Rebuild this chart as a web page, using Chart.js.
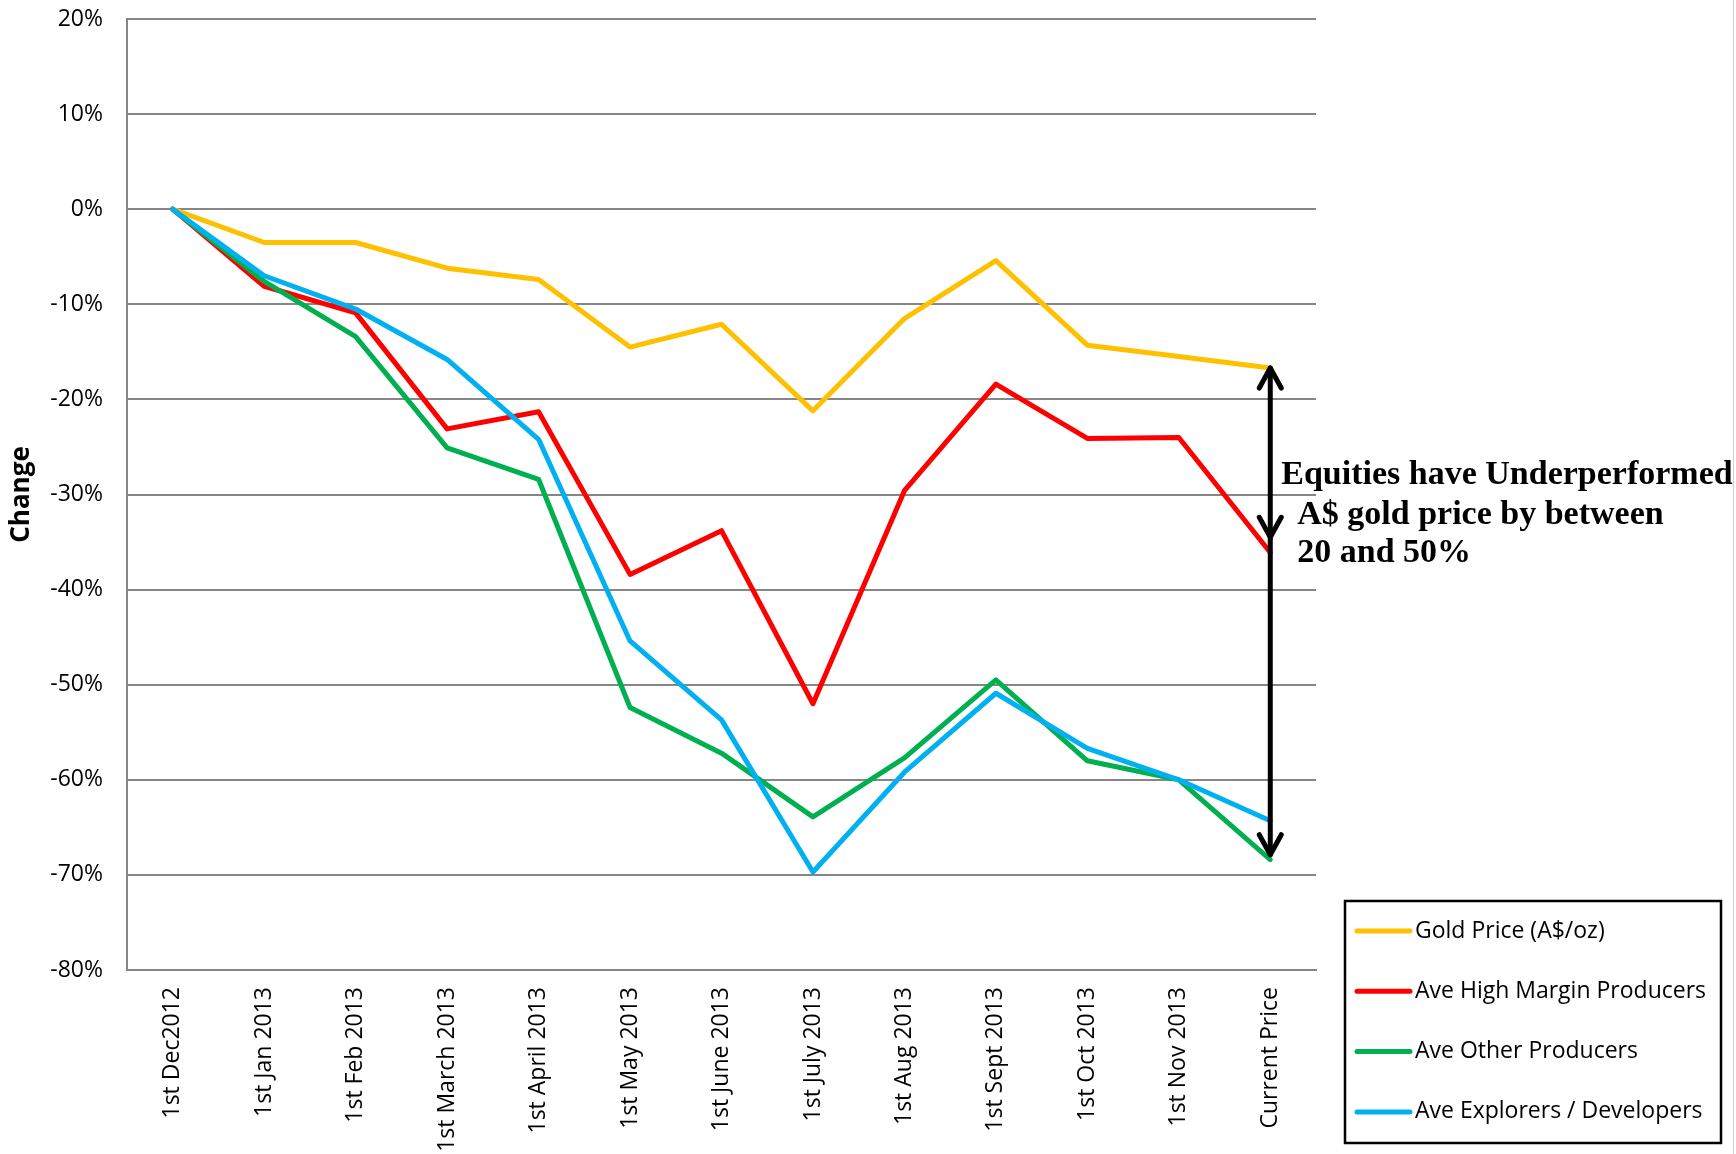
<!DOCTYPE html>
<html>
<head>
<meta charset="utf-8">
<script src="https://cdn.jsdelivr.net/npm/chart.js@4.4.1/dist/chart.umd.min.js"></script>
<style>
  html, body { margin: 0; padding: 0; background: #ffffff; }
  #wrap { width: 1736px; height: 1154px; position: relative; }
</style>
</head>
<body>
<div id="wrap"><canvas id="c" width="1736" height="1154"></canvas></div>
<script>
// ---- Data ----
const categories = ["1st Dec2012", "1st Jan 2013", "1st Feb 2013", "1st March 2013", "1st April 2013",
  "1st May 2013", "1st June 2013", "1st July 2013", "1st Aug 2013", "1st Sept 2013",
  "1st Oct 2013", "1st Nov 2013", "Current Price"];
const goldPrice      = [0, -3.5, -3.5, -6.2, -7.4, -14.5, -12.1, -21.2, -11.5, -5.4, -14.3, -15.5, -16.7];
const highMargin     = [0, -8.1, -10.9, -23.1, -21.3, -38.4, -33.8, -52.0, -29.6, -18.4, -24.1, -24.0, -36.1];
const otherProducers = [0, -7.6, -13.4, -25.1, -28.4, -52.4, -57.2, -63.9, -57.7, -49.5, -58.0, -60.0, -68.4];
const explorers      = [0, -7.0, -10.5, -15.8, -24.2, -45.4, -53.7, -69.7, -59.2, -50.9, -56.7, -60.0, -64.3];
const seriesNames = ["Gold Price (A$/oz)", "Ave High Margin Producers", "Ave Other Producers", "Ave Explorers / Developers"];
const yTicks = [20, 10, 0, -10, -20, -30, -40, -50, -60, -70, -80];
const annotationLines = ["Equities have Underperformed", "A$ gold price by between", "20 and 50%"];
const midArrowValue = -34.5;

const colors = ["#FFC000", "#FF0000", "#00B050", "#00B0F0"];
const sans = "'Open Sans', 'Noto Sans', sans-serif";

// ---- Plugins ----
const annotationPlugin = {
  id: 'annot',
  afterDatasetsDraw(chart) {
    const ctx = chart.ctx;
    const xs = chart.scales.x, ys = chart.scales.y;
    const last = categories.length - 1;
    const x = xs.getPixelForValue(last);
    const yTop = ys.getPixelForValue(goldPrice[last]);
    const yBot = ys.getPixelForValue(otherProducers[last]) - 5;
    const yMid = ys.getPixelForValue(midArrowValue);
    ctx.save();
    ctx.strokeStyle = '#000';
    ctx.lineWidth = 5;
    ctx.lineCap = 'round';
    ctx.lineJoin = 'round';
    ctx.beginPath();
    ctx.moveTo(x, yTop); ctx.lineTo(x, yBot);
    ctx.stroke();
    const head = (ty, dir) => {
      ctx.beginPath();
      ctx.moveTo(x - 11, ty + dir * 20);
      ctx.lineTo(x, ty);
      ctx.lineTo(x + 11, ty + dir * 20);
      ctx.stroke();
    };
    head(yTop, 1);
    head(yBot, -1);
    head(yMid, -1);
    // text
    ctx.fillStyle = '#000';
    ctx.font = "bold 34px 'Liberation Serif', serif";
    ctx.textAlign = 'left';
    ctx.textBaseline = 'alphabetic';
    ctx.fillText(annotationLines[0], x + 11, 484);
    ctx.fillText(annotationLines[1], x + 27, 524);
    ctx.fillText(annotationLines[2], x + 27, 562);
    ctx.restore();
  }
};

const legendPlugin = {
  id: 'customLegend',
  afterDraw(chart) {
    const ctx = chart.ctx;
    ctx.save();
    ctx.strokeStyle = '#000';
    ctx.lineWidth = 2.5;
    ctx.strokeRect(1345, 901, 376, 242);
    ctx.font = "23px " + sans;
    ctx.textAlign = 'left';
    ctx.textBaseline = 'middle';
    chart.data.datasets.forEach((ds, i) => {
      const y = 931 + i * 60.3;
      ctx.strokeStyle = ds.borderColor;
      ctx.lineWidth = 5;
      ctx.lineCap = 'round';
      ctx.beginPath();
      ctx.moveTo(1357, y); ctx.lineTo(1410, y);
      ctx.stroke();
      ctx.fillStyle = '#000';
      ctx.fillText(ds.label, 1415, y);
    });
    ctx.strokeStyle = '#d0d0d0';
    ctx.lineWidth = 1;
    ctx.beginPath();
    ctx.moveTo(1733.5, 0); ctx.lineTo(1733.5, 1154);
    ctx.stroke();
    ctx.restore();
  }
};

const bgPlugin = {
  id: 'bg',
  beforeDraw(chart) {
    const ctx = chart.ctx;
    ctx.save();
    ctx.fillStyle = '#fff';
    ctx.fillRect(0, 0, chart.width, chart.height);
    ctx.restore();
  }
};

const seriesData = [goldPrice, highMargin, otherProducers, explorers];
const datasets = seriesData.map((d, i) => ({
  label: seriesNames[i],
  data: d,
  borderColor: colors[i],
  backgroundColor: colors[i],
  borderWidth: 5,
  pointRadius: 0,
  pointHoverRadius: 0,
  tension: 0,
  fill: false,
  borderCapStyle: 'round',
  borderJoinStyle: 'round',
  order: 4 - i
}));

new Chart(document.getElementById('c'), {
  type: 'line',
  data: { labels: categories, datasets },
  options: {
    responsive: false,
    animation: false,
    devicePixelRatio: 1,
    layout: { padding: { top: 19, right: 420, left: 0, bottom: 0 } },
    plugins: {
      legend: { display: false },
      tooltip: { enabled: false }
    },
    scales: {
      x: {
        type: 'category',
        offset: true,
        grid: { display: false, drawTicks: false },
        border: { display: true, color: '#868686', width: 2 },
        ticks: {
          autoSkip: false,
          minRotation: 90,
          maxRotation: 90,
          padding: 17,
          color: '#000',
          font: { family: sans, size: 23 }
        },
        afterFit(scale) {
          scale.height = 184;
          scale.paddingLeft = 0;
          scale.paddingRight = 0;
        }
      },
      y: {
        min: -80,
        max: 20,
        afterBuildTicks(scale) { scale.ticks = yTicks.map(v => ({ value: v })); },
        grid: { color: '#868686', lineWidth: 2, drawTicks: false },
        border: { display: true, color: '#868686', width: 2 },
        ticks: {
          padding: 24,
          color: '#000',
          font: { family: sans, size: 23 },
          callback: (v) => v + '%'
        },
        title: {
          display: true,
          text: 'Change',
          color: '#000',
          font: { family: sans, size: 26, weight: 'bold' },
          padding: { top: 6, bottom: 0 }
        },
        afterFit(scale) {
          scale.width = 127;
          scale.paddingTop = 0;
          scale.paddingBottom = 0;
        }
      }
    }
  },
  plugins: [bgPlugin, annotationPlugin, legendPlugin]
});
</script>
</body>
</html>
